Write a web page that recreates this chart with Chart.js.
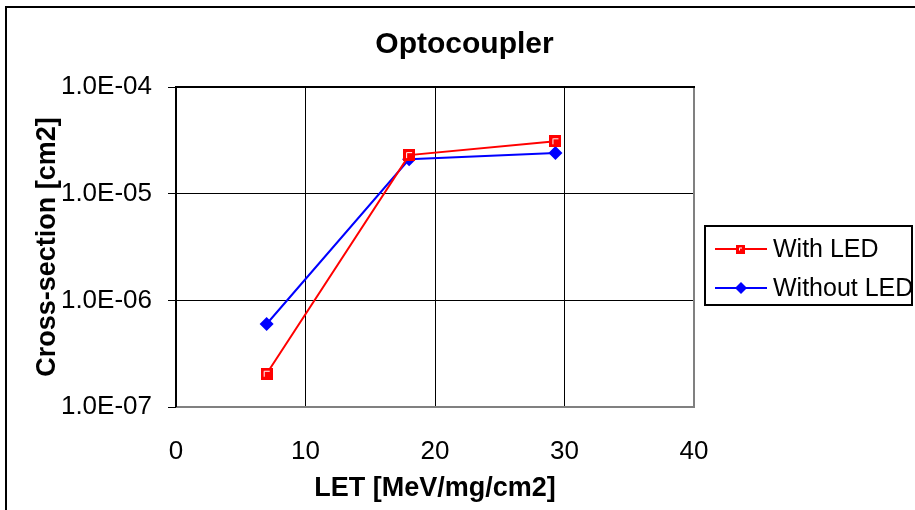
<!DOCTYPE html>
<html>
<head>
<meta charset="utf-8">
<title>Optocoupler</title>
<script src="https://cdn.jsdelivr.net/npm/chart.js@4.4.0/dist/chart.umd.min.js"></script>
<style>
  html, body { margin: 0; padding: 0; background: #fff; }
</style>
</head>
<body>
<canvas id="myChart" width="915" height="510"></canvas>
<script>
// Data
const seriesNames = ['With LED', 'Without LED'];
const letWithLed = [7, 18, 29.3];
const xsWithLed = [2.05e-7, 2.3e-5, 3.1e-5];
const letWithoutLed = [7, 18, 29.3];
const xsWithoutLed = [6.0e-7, 2.1e-5, 2.4e-5];
const xTicks = [0, 10, 20, 30, 40];
const yTicks = [1e-7, 1e-6, 1e-5, 1e-4];
const yTickLabels = ['1.0E-07', '1.0E-06', '1.0E-05', '1.0E-04'];

const RED = '#ff0000';
const BLUE = '#0000ff';

Chart.defaults.font.family = '"Liberation Sans", Arial, sans-serif';
Chart.defaults.color = '#000';

// Excel style square marker: red with a white highlight inside
function squareMarker(size) {
    const c = document.createElement('canvas');
    c.width = size;
    c.height = size;
    const g = c.getContext('2d');
    g.fillStyle = RED;
    g.fillRect(0, 0, size, size);
    g.strokeStyle = '#fff';
    g.lineWidth = 1;
    g.beginPath();
    g.moveTo(3.5, size - 3);
    g.lineTo(3.5, 3.5);
    g.lineTo(size - 3, 3.5);
    g.stroke();
    return c;
}

function toPoints(xs, ys) {
    return xs.map((x, i) => ({ x: x, y: ys[i] }));
}

// outer frame + plot border (black top/left, grey bottom/right)
const frames = {
    id: 'frames',
    beforeDraw(chart) {
        const ctx = chart.ctx;
        ctx.save();
        ctx.strokeStyle = '#000';
        ctx.lineWidth = 2;
        ctx.strokeRect(6, 7, 940, 540);
        ctx.restore();
    },
    beforeDatasetsDraw(chart) {
        const a = chart.chartArea;
        const ctx = chart.ctx;
        ctx.save();
        ctx.lineWidth = 2;
        ctx.strokeStyle = '#808080';
        ctx.beginPath();
        ctx.moveTo(a.left, a.bottom);
        ctx.lineTo(a.right, a.bottom);
        ctx.lineTo(a.right, a.top);
        ctx.stroke();
        ctx.strokeStyle = '#000';
        ctx.beginPath();
        ctx.moveTo(a.left, a.bottom);
        ctx.lineTo(a.left, a.top);
        ctx.lineTo(a.right + 1, a.top);
        ctx.stroke();
        ctx.restore();
    }
};

// boxed legend on the right, like the Excel one
const boxLegend = {
    id: 'boxLegend',
    afterDraw(chart) {
        const ctx = chart.ctx;
        const box = { x: 705, y: 226, w: 207, h: 79 };
        ctx.save();
        ctx.strokeStyle = '#000';
        ctx.lineWidth = 2;
        ctx.strokeRect(box.x, box.y, box.w, box.h);
        chart.data.datasets.forEach((ds, i) => {
            const y = 249 + i * 39;
            ctx.strokeStyle = ds.borderColor;
            ctx.lineWidth = 2;
            ctx.beginPath();
            ctx.moveTo(715, y);
            ctx.lineTo(767, y);
            ctx.stroke();
            if (i === 0) {
                ctx.drawImage(squareMarker(9), 736, y - 4.5);
            } else {
                ctx.fillStyle = BLUE;
                ctx.beginPath();
                ctx.moveTo(741, y - 6);
                ctx.lineTo(747, y);
                ctx.lineTo(741, y + 6);
                ctx.lineTo(735, y);
                ctx.closePath();
                ctx.fill();
            }
            ctx.fillStyle = '#000';
            ctx.font = '25px "Liberation Sans", Arial, sans-serif';
            ctx.textBaseline = 'middle';
            ctx.fillText(ds.label, 773, y + 1);
        });
        ctx.restore();
    }
};

window.addEventListener('DOMContentLoaded', event => {
    const ctx = document.getElementById('myChart');
    new Chart(ctx, {
        type: 'scatter',
        data: {
            datasets: [{
                label: seriesNames[0],
                data: toPoints(letWithLed, xsWithLed),
                showLine: true,
                borderColor: RED,
                backgroundColor: RED,
                borderWidth: 2,
                pointStyle: squareMarker(12),
                pointRadius: 6
            }, {
                label: seriesNames[1],
                data: toPoints(letWithoutLed, xsWithoutLed),
                showLine: true,
                borderColor: BLUE,
                backgroundColor: BLUE,
                borderWidth: 2,
                pointStyle: 'rectRot',
                pointRadius: 7,
                pointBorderWidth: 0
            }]
        },
        options: {
            responsive: false,
            animation: false,
            layout: { padding: { top: 0, left: 14, right: 0, bottom: 0 } },
            plugins: {
                legend: { display: false },
                tooltip: { enabled: false },
                title: {
                    display: true,
                    text: 'Optocoupler',
                    font: { size: 30, weight: 'bold' },
                    padding: { top: 27, bottom: 24 }
                }
            },
            scales: {
                x: {
                    type: 'linear',
                    min: 0,
                    max: 40,
                    afterBuildTicks: scale => { scale.ticks = xTicks.map(v => ({ value: v })); },
                    afterFit: scale => { scale.height = 103; },
                    grid: { color: '#000', lineWidth: 1, drawTicks: false },
                    border: { display: false },
                    ticks: { font: { size: 26 }, padding: 29 },
                    title: {
                        display: true,
                        text: 'LET [MeV/mg/cm2]',
                        font: { size: 27, weight: 'bold' },
                        padding: { top: 0, bottom: 5 }
                    }
                },
                y: {
                    type: 'logarithmic',
                    min: 1e-7,
                    max: 1e-4,
                    afterBuildTicks: scale => { scale.ticks = yTicks.map(v => ({ value: v })); },
                    afterFit: scale => { scale.width = 162; },
                    grid: { color: '#000', lineWidth: 1, tickLength: 8 },
                    border: { display: false },
                    ticks: {
                        font: { size: 26 },
                        padding: 16,
                        callback: (value, index) => yTickLabels[index]
                    },
                    title: {
                        display: true,
                        text: 'Cross-section [cm2]',
                        font: { size: 27, weight: 'bold' },
                        padding: { top: 17, bottom: 0 }
                    }
                },
                // empty axis that keeps the space on the right for the legend box
                legendSpace: {
                    type: 'linear',
                    position: 'right',
                    display: true,
                    grid: { display: false },
                    border: { display: false },
                    ticks: { display: false },
                    afterFit: scale => { scale.width = 221; }
                }
            }
        },
        plugins: [frames, boxLegend]
    });
});
</script>
</body>
</html>
